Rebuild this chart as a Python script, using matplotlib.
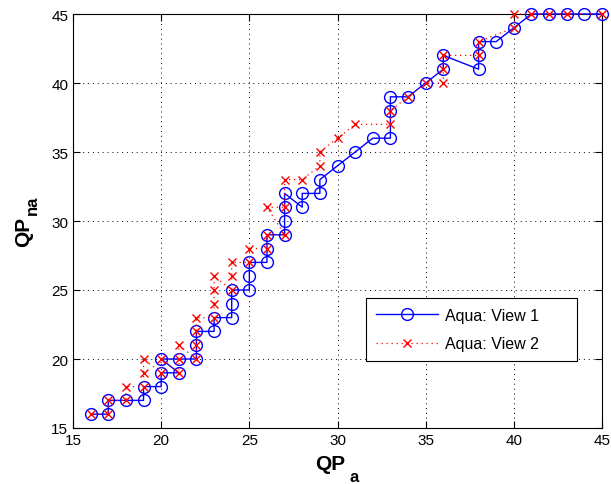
import matplotlib
matplotlib.use("Agg")
import matplotlib.pyplot as plt

plt.rcParams['font.family'] = ['Liberation Sans', 'DejaVu Sans']

view1_x = [16, 17, 17, 18, 19, 19, 20, 20, 21, 20, 21, 22, 22, 22, 23, 23, 24, 24, 24, 25,
           25, 25, 26, 26, 26, 27, 27, 27, 27, 28, 28, 29, 29, 30, 31, 32, 33, 33, 33, 34,
           35, 36, 36, 38, 38, 38, 39, 40, 41, 42, 43, 44, 45]
view1_y = [16, 16, 17, 17, 17, 18, 18, 19, 19, 20, 20, 20, 21, 22, 22, 23, 23, 24, 25, 25,
           26, 27, 27, 28, 29, 29, 30, 31, 32, 31, 32, 32, 33, 34, 35, 36, 36, 38, 39, 39,
           40, 41, 42, 41, 42, 43, 43, 44, 45, 45, 45, 45, 45]

view2_x = [16, 17, 17, 18, 18, 19, 19, 19, 20, 20, 21, 21, 21, 22, 22, 22, 22, 23, 23, 23,
           23, 24, 24, 24, 25, 25, 26, 26, 27, 26, 27, 27, 28, 29, 29, 30, 31, 33, 33, 34,
           35, 36, 36, 36, 38, 38, 40, 40, 41, 42, 43, 45]
view2_y = [16, 16, 17, 17, 18, 18, 19, 20, 19, 20, 19, 20, 21, 20, 21, 22, 23, 23, 24, 25,
           26, 25, 26, 27, 27, 28, 28, 29, 29, 31, 31, 33, 33, 34, 35, 36, 37, 37, 38, 39,
           40, 40, 41, 42, 42, 43, 44, 45, 45, 45, 45, 45]

labels = ['Aqua: View 1', 'Aqua: View 2']
xticks = [15, 20, 25, 30, 35, 40, 45]
yticks = [15, 20, 25, 30, 35, 40, 45]
xlabel_main, xlabel_sub = 'QP', 'a'
ylabel_main, ylabel_sub = 'QP', 'na'

fig = plt.figure(figsize=(6.11, 4.85), dpi=100)
ax = fig.add_axes([73/611, 1-429/485, (602-73)/611, (429-15)/485])

ax.plot(view1_x, view1_y, color='#0000ff', linewidth=1.0, marker='o', markersize=8.5,
        markerfacecolor='none', markeredgecolor='#0000ff', markeredgewidth=1.0,
        label=labels[0], clip_on=False, zorder=3)
ax.plot(view2_x, view2_y, color='#ff0000', linewidth=0.9, linestyle=(0, (1, 3)), marker='x',
        markersize=6, markeredgewidth=1.0, label=labels[1], clip_on=False, zorder=4)

ax.set_xlim(15, 45)
ax.set_ylim(15, 45)
ax.set_xticks(xticks)
ax.set_yticks(yticks)
ax.tick_params(direction='in', top=True, right=True, labelsize=11, length=5, width=0.8)
ax.grid(True, color='black', linestyle=(0, (1, 4)), linewidth=0.7)
for s in ax.spines.values():
    s.set_linewidth(0.8)

xl = ax.set_xlabel(xlabel_main, fontsize=15, fontweight='bold', labelpad=5)
yl = ax.set_ylabel(ylabel_main, fontsize=15, fontweight='bold', labelpad=13)
ax.xaxis.label.set_x(0.487)
ax.yaxis.label.set_y(0.476)

ax.annotate(xlabel_sub, xy=(1, 0), xycoords=xl, xytext=(3, -6), textcoords='offset points',
            ha='left', va='baseline', fontsize=12, fontweight='bold', annotation_clip=False)
ax.annotate(ylabel_sub, xy=(1, 1), xycoords=yl, xytext=(5, 1), textcoords='offset points',
            ha='right', va='bottom', rotation=90, fontsize=12, fontweight='bold',
            annotation_clip=False)

leg = ax.legend(loc='upper left', bbox_to_anchor=(0.554, 0.314, 0.399, 0.0), mode='expand',
                fontsize=11.5, frameon=True, fancybox=False, edgecolor='black', framealpha=1,
                handlelength=3.9, borderpad=0.62, labelspacing=0.85, handletextpad=0.4,
                borderaxespad=0.0)
leg.get_frame().set_linewidth(0.8)

fig.savefig('out.png', dpi=100)
